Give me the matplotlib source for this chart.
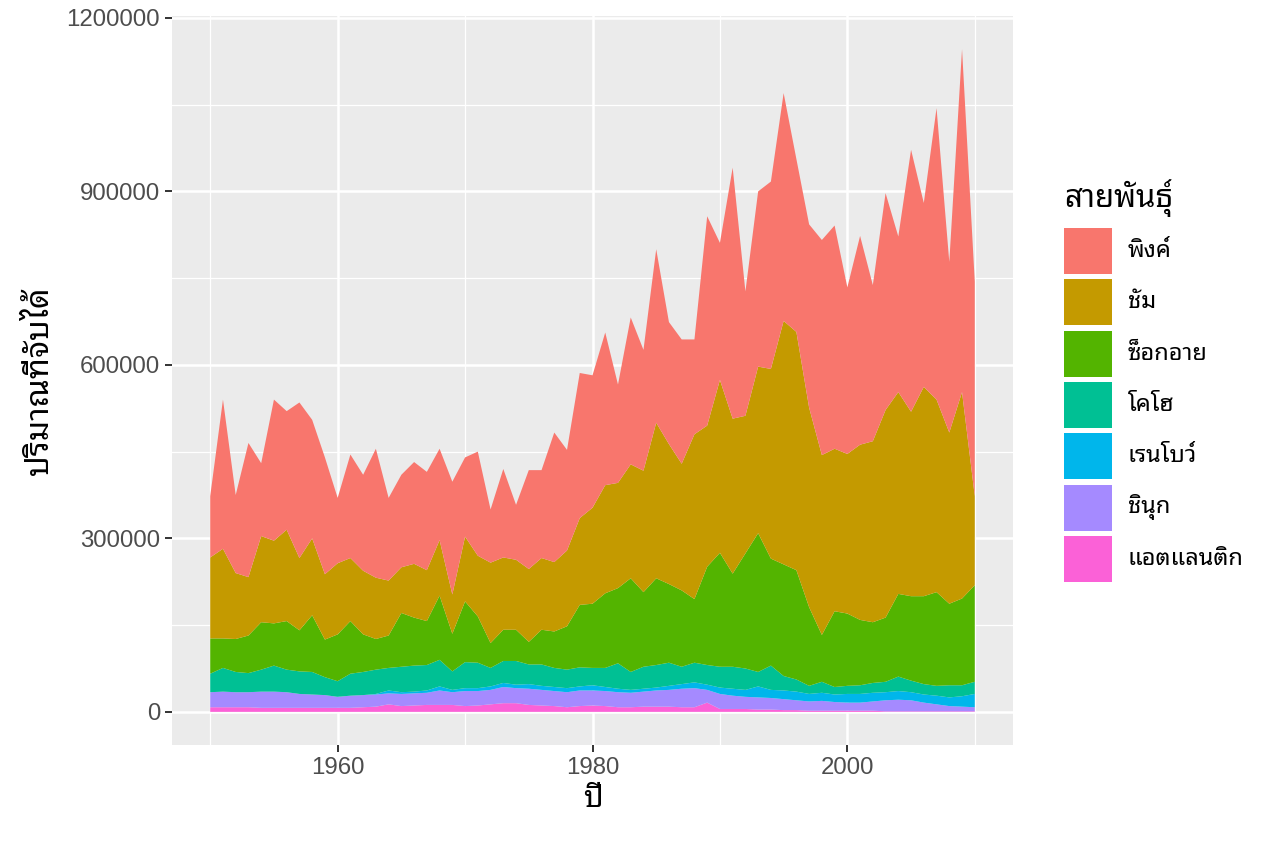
import matplotlib
matplotlib.use('Agg')
import matplotlib.pyplot as plt
from matplotlib import font_manager
from matplotlib.patches import Rectangle
from matplotlib.ticker import MultipleLocator

# catch per species (thousands)
years = list(range(1950, 2011))
pink = [106, 258, 135, 232, 126, 244, 205, 269, 205, 202,
        113, 179, 166, 223, 143, 160, 176, 170, 158, 195,
        137, 180, 92, 153, 95, 171, 152, 224, 174, 251,
        229, 264, 170, 254, 209, 300, 211, 215, 164, 362,
        237, 434, 215, 303, 324, 394, 299, 317, 372, 386,
        288, 361, 270, 375, 269, 453, 318, 504, 295, 593,
        371]
chum = [140, 155, 114, 101, 149, 143, 158, 125, 133, 113,
        123, 109, 110, 106, 95, 79, 93, 88, 96, 68,
        112, 105, 139, 125, 121, 126, 124, 120, 131, 150,
        166, 187, 182, 197, 210, 269, 242, 219, 285, 244,
        299, 268, 238, 288, 328, 421, 412, 345, 311, 281,
        276, 303, 313, 359, 349, 319, 362, 333, 296, 357,
        154]
sockeye = [61, 51, 57, 65, 82, 73, 84, 71, 98, 65,
           81, 91, 65, 53, 56, 93, 83, 76, 111, 65,
           105, 80, 43, 54, 54, 39, 60, 63, 75, 108,
           111, 129, 130, 162, 129, 150, 136, 132, 110, 170,
           197, 161, 199, 240, 185, 193, 189, 136, 81, 131,
           125, 113, 105, 111, 143, 146, 152, 162, 141, 150,
           167]
coho = [32, 41, 35, 33, 38, 45, 39, 39, 39, 31,
        27, 38, 40, 42, 39, 44, 45, 44, 46, 32,
        45, 44, 32, 38, 41, 34, 37, 33, 32, 33,
        30, 33, 44, 31, 38, 39, 40, 30, 34, 34,
        36, 38, 37, 25, 42, 25, 21, 14, 19, 13,
        14, 15, 17, 18, 25, 20, 18, 17, 21, 19,
        21]
rainbow = [0, 0, 0, 0, 0, 0, 0, 0, 0, 0,
           0, 0, 0, 1, 5, 3, 3, 4, 7, 4,
           5, 5, 6, 7, 6, 8, 7, 7, 7, 7,
           9, 7, 6, 5, 5, 5, 7, 8, 10, 9,
           11, 12, 12, 19, 14, 15, 15, 13, 14, 13,
           15, 15, 15, 14, 15, 14, 14, 15, 15, 18,
           23]
chinook = [26, 27, 26, 26, 28, 28, 27, 24, 23, 22,
           19, 21, 21, 21, 19, 21, 21, 21, 25, 22,
           26, 25, 25, 28, 26, 28, 27, 26, 26, 27,
           26, 26, 26, 25, 26, 28, 29, 32, 33, 22,
           26, 23, 21, 21, 20, 19, 17, 16, 17, 15,
           14, 14, 16, 19, 20, 19, 15, 12, 9, 8,
           7]
atlantic = [8, 8, 8, 8, 7, 7, 7, 7, 7, 7,
            7, 7, 8, 9, 13, 10, 11, 12, 12, 12,
            10, 11, 13, 15, 15, 12, 11, 10, 8, 10,
            11, 10, 8, 8, 9, 9, 9, 8, 8, 16,
            5, 5, 5, 4, 4, 3, 3, 2, 2, 2,
            2, 2, 2, 1, 1, 1, 1, 1, 1, 1,
            1]

species = ['พิงค์', 'ชัม', 'ซ็อกอาย', 'โคโฮ', 'เรนโบว์', 'ชินุก', 'แอตแลนติก']
colors = ['#F8766D', '#C49A00', '#53B400', '#00C094', '#00B6EB', '#A58AFF', '#FB61D7']

# a Thai capable family for the Thai text, Liberation Sans for digits
names = {f.name for f in font_manager.fontManager.ttflist}
thai = next((n for n in ['Noto Sans Thai Looped', 'Sarabun', 'Noto Sans Thai', 'Anuphan']
             if n in names), 'DejaVu Sans')
plt.rcParams['font.family'] = ['Liberation Sans', thai]

W, H = 1264, 843
fig = plt.figure(figsize=(W / 100, H / 100), dpi=100)
ax = fig.add_axes([172 / W, 1 - 745 / H, (1013 - 172) / W, (745 - 16) / H])
ax.set_facecolor('#EBEBEB')

series = [pink, chum, sockeye, coho, rainbow, chinook, atlantic]
stack = [[v * 1000 for v in s] for s in series[::-1]]
ax.stackplot(years, *stack, colors=colors[::-1], linewidth=0)

totals = [sum(vals) * 1000 for vals in zip(*series)]
top = max(totals)
span = years[-1] - years[0]
ax.set_xlim(years[0] - 0.05 * span, years[-1] + 0.05 * span)
ax.set_ylim(-0.05 * top, 1.05 * top)

ax.yaxis.set_major_locator(MultipleLocator(300000))
ax.yaxis.set_minor_locator(MultipleLocator(150000))
ax.ticklabel_format(style='plain', axis='y', useOffset=False)
ax.set_xticks([1960, 1980, 2000])
ax.set_xticks([1950, 1970, 1990, 2010], minor=True)
ax.grid(which='major', color='white', linewidth=1.8)
ax.grid(which='minor', color='white', linewidth=0.9)
ax.set_axisbelow(True)
for sp in ax.spines.values():
    sp.set_visible(False)
ax.tick_params(which='major', length=5, width=1.4, color='#333333',
               labelcolor='#4D4D4D', labelsize=17.3, pad=3.5)
ax.tick_params(which='minor', length=0)

ax.set_xlabel('ปี', fontsize=22, color='black', labelpad=4)
ax.set_ylabel('ปริมาณที่จับได้', fontsize=23, color='black', labelpad=8)

# legend drawn as boxes and labels
fig.text(1064 / W, 1 - 198 / H, 'สายพันธุ์', fontsize=22.5, va='center', ha='left')
for i, (lab, col) in enumerate(zip(species, colors)):
    y0 = 228 + i * 51.3
    fig.add_artist(Rectangle((1064 / W, 1 - (y0 + 46) / H), 48 / W, 46 / H,
                             facecolor=col, edgecolor='none', transform=fig.transFigure))
    fig.text(1128 / W, 1 - (y0 + 23) / H, lab, fontsize=17, va='center', ha='left')

fig.savefig('out.png', dpi=100)
